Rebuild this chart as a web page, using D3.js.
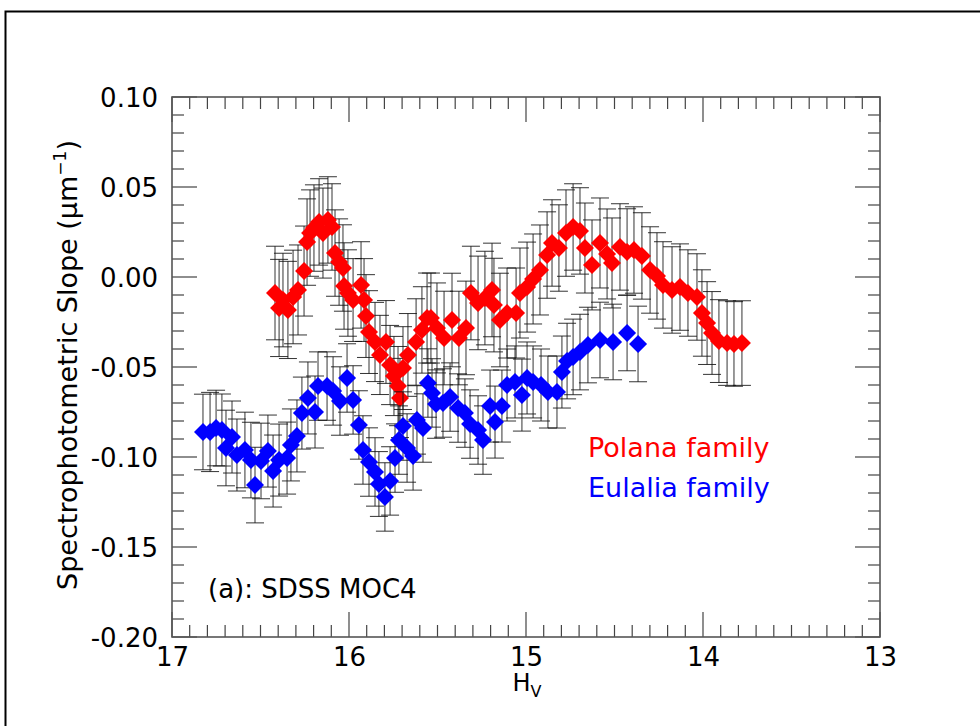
<!DOCTYPE html>
<html>
<head>
<meta charset="utf-8">
<script src="https://cdn.jsdelivr.net/npm/d3@7"></script>
<style>
  html, body { margin: 0; padding: 0; background: #fff; }
  svg { display: block; }
  text { font-family: "DejaVu Sans", "Noto Sans", sans-serif; }
</style>
</head>
<body>
<svg id="chart" width="980" height="726"></svg>
<script>
// Polana family: absolute magnitude H_V, running-mean slope and its error
const polanaH = [16.418,16.395,16.373,16.345,16.316,16.288,16.254,16.237,16.220,16.198,
  16.169,16.147,16.119,16.096,16.079,16.056,16.034,16.028,16.006,15.977,
  15.932,15.915,15.904,15.887,15.853,15.825,15.791,15.768,15.746,15.723,
  15.712,15.695,15.667,15.621,15.588,15.559,15.537,15.503,15.463,15.418,
  15.379,15.339,15.311,15.271,15.232,15.192,15.181,15.147,15.107,15.056,
  15.034,14.994,14.960,14.921,14.881,14.853,14.814,14.774,14.734,14.695,
  14.667,14.627,14.582,14.542,14.514,14.469,14.429,14.390,14.345,14.299,
  14.260,14.226,14.175,14.130,14.085,14.034,14.006,13.977,13.949,13.910,
  13.864,13.825,13.780];
const polanaSlope = [-0.0089,-0.0172,-0.0128,-0.0183,-0.0111,-0.0072,0.0033,0.0194,0.0244,0.0272,
  0.0306,0.0244,0.0317,0.0278,0.0133,0.0083,0.0050,-0.0050,-0.0089,-0.0128,
  -0.0044,-0.0128,-0.0217,-0.0306,-0.0361,-0.0433,-0.0361,-0.0489,-0.0550,-0.0606,
  -0.0672,-0.0506,-0.0433,-0.0361,-0.0294,-0.0228,-0.0228,-0.0283,-0.0339,-0.0239,
  -0.0339,-0.0283,-0.0089,-0.0144,-0.0117,-0.0072,-0.0156,-0.0239,-0.0200,-0.0200,
  -0.0089,-0.0056,-0.0011,0.0039,0.0122,0.0189,0.0161,0.0244,0.0278,0.0256,
  0.0161,0.0067,0.0189,0.0128,0.0078,0.0167,0.0139,0.0150,0.0117,0.0039,
  0.0006,-0.0044,-0.0072,-0.0056,-0.0089,-0.0111,-0.0200,-0.0256,-0.0311,-0.0356,
  -0.0367,-0.0372,-0.0367];
const polanaErr = [0.026,0.027,0.026,0.027,0.026,0.025,0.025,0.024,0.024,0.024,
  0.024,0.025,0.024,0.024,0.024,0.024,0.024,0.024,0.024,0.023,
  0.024,0.023,0.023,0.023,0.022,0.022,0.023,0.022,0.022,0.022,
  0.022,0.023,0.023,0.024,0.024,0.025,0.025,0.025,0.026,0.026,
  0.026,0.026,0.026,0.026,0.026,0.026,0.026,0.026,0.025,0.025,
  0.025,0.025,0.025,0.025,0.024,0.024,0.024,0.024,0.024,0.024,
  0.025,0.025,0.025,0.025,0.025,0.024,0.024,0.024,0.024,0.024,
  0.024,0.024,0.024,0.024,0.024,0.024,0.024,0.023,0.023,0.023,
  0.0235,0.0235,0.0235];

// Eulalia family
const eulaliaH = [16.825,16.785,16.751,16.718,16.695,16.661,16.633,16.588,16.554,16.531,
  16.497,16.458,16.429,16.395,16.350,16.328,16.294,16.266,16.232,16.192,
  16.175,16.124,16.090,16.051,16.011,15.977,15.944,15.921,15.887,15.853,
  15.831,15.797,15.768,15.740,15.718,15.695,15.672,15.638,15.616,15.582,
  15.554,15.531,15.508,15.469,15.429,15.384,15.345,15.316,15.271,15.243,
  15.203,15.175,15.136,15.107,15.062,15.023,14.994,14.960,14.915,14.876,
  14.825,14.797,14.768,14.734,14.695,14.650,14.582,14.508,14.429,14.367];
const eulaliaSlope = [-0.0861,-0.0861,-0.0839,-0.0850,-0.0950,-0.0889,-0.0989,-0.0961,-0.1017,-0.1156,
  -0.1022,-0.0967,-0.1078,-0.1017,-0.1006,-0.0933,-0.0883,-0.0756,-0.0672,-0.0750,
  -0.0606,-0.0606,-0.0633,-0.0689,-0.0561,-0.0683,-0.0822,-0.0961,-0.1028,-0.1083,
  -0.1150,-0.1222,-0.1133,-0.1006,-0.0906,-0.0828,-0.0950,-0.0994,-0.0794,-0.0839,
  -0.0589,-0.0644,-0.0706,-0.0700,-0.0667,-0.0728,-0.0756,-0.0817,-0.0850,-0.0906,
  -0.0717,-0.0806,-0.0717,-0.0600,-0.0583,-0.0656,-0.0561,-0.0583,-0.0600,-0.0639,
  -0.0639,-0.0528,-0.0467,-0.0444,-0.0417,-0.0378,-0.0350,-0.0361,-0.0311,-0.0372];
const eulaliaErr = [0.021,0.022,0.021,0.020,0.021,0.020,0.020,0.021,0.021,0.021,
  0.021,0.020,0.020,0.020,0.020,0.020,0.020,0.020,0.020,0.020,
  0.019,0.019,0.019,0.019,0.019,0.019,0.019,0.019,0.019,0.019,
  0.018,0.019,0.019,0.019,0.019,0.019,0.019,0.019,0.019,0.019,
  0.019,0.019,0.019,0.019,0.019,0.019,0.019,0.019,0.019,0.019,
  0.020,0.020,0.020,0.020,0.020,0.020,0.020,0.020,0.020,0.020,
  0.020,0.020,0.021,0.021,0.021,0.021,0.021,0.021,0.021,0.021];

const xTickValues = [17, 16, 15, 14, 13];
const yTickValues = [0.10, 0.05, 0.00, -0.05, -0.10, -0.15, -0.20];

const svg = d3.select("#chart");
const W = 980, H = 726;
const margin = { left: 172, right: 100, top: 97, bottom: 89 };
const x0 = margin.left, x1 = W - margin.right;
const y0 = margin.top, y1 = H - margin.bottom;

const x = d3.scaleLinear().domain([17, 13]).range([x0, x1]);
const y = d3.scaleLinear().domain([-0.20, 0.10]).range([y1, y0]);

// outer figure frame
svg.append("rect")
  .attr("x", 5.5).attr("y", 11.5).attr("width", 1000).attr("height", 800)
  .attr("fill", "none").attr("stroke", "#000").attr("stroke-width", 2);

// ticks (inward on all four sides)
const tickColor = "#444";
const minorX = d3.range(130, 171).map(v => v / 10);
const minorY = d3.range(-20, 11).map(v => v / 100);
const g = svg.append("g").attr("stroke", tickColor).attr("stroke-width", 1.2);
minorX.forEach(v => {
  const major = Math.abs(v - Math.round(v)) < 1e-6;
  const len = major ? 25 : 12;
  const px = x(v);
  g.append("line").attr("x1", px).attr("x2", px).attr("y1", y1).attr("y2", y1 - len);
  g.append("line").attr("x1", px).attr("x2", px).attr("y1", y0).attr("y2", y0 + len);
});
minorY.forEach(v => {
  const major = Math.abs(v * 20 - Math.round(v * 20)) < 1e-6;
  const len = major ? 25 : 12;
  const py = y(v);
  g.append("line").attr("x1", x0).attr("x2", x0 + len).attr("y1", py).attr("y2", py);
  g.append("line").attr("x1", x1).attr("x2", x1 - len).attr("y1", py).attr("y2", py);
});

// axes frame
svg.append("rect")
  .attr("x", x0).attr("y", y0).attr("width", x1 - x0).attr("height", y1 - y0)
  .attr("fill", "none").attr("stroke", "#555").attr("stroke-width", 1.6);

// tick labels via d3 axes (lines hidden, labels kept)
const xAxis = d3.axisBottom(x).tickValues(xTickValues).tickFormat(d3.format("d")).tickSize(0).tickPadding(10);
const gx = svg.append("g").attr("transform", `translate(0,${y1})`).call(xAxis);
gx.select(".domain").remove();
gx.selectAll("text").attr("font-size", 26).attr("fill", "#000")
  .attr("font-family", "DejaVu Sans, sans-serif").attr("dy", "0.72em");

const yAxis = d3.axisLeft(y).tickValues(yTickValues).tickFormat(d3.format(".2f")).tickSize(0).tickPadding(14);
const gy = svg.append("g").attr("transform", `translate(${x0},0)`).call(yAxis);
gy.select(".domain").remove();
gy.selectAll("text").attr("font-size", 26).attr("fill", "#000")
  .attr("font-family", "DejaVu Sans, sans-serif").attr("dy", "0.36em")
  .text(d => d3.format(".2f")(d).replace("−", "-"));

// axis titles
const xt = svg.append("text").attr("x", 527).attr("y", 691)
  .attr("text-anchor", "middle").attr("font-size", 24);
xt.append("tspan").text("H");
xt.append("tspan").attr("font-size", 16).attr("dy", 6).text("V");

const yt = svg.append("text")
  .attr("transform", "translate(77,365) rotate(-90)")
  .attr("text-anchor", "middle").attr("font-size", 27);
yt.append("tspan").text("Spectrophotometric Slope (\u03bcm");
yt.append("tspan").attr("font-size", 17).attr("dy", -11).text("\u22121");
yt.append("tspan").attr("dy", 11).text(")");

// data series
const diamond = r => `M0,${-r}L${r},0L0,${r}L${-r},0Z`;
function drawSeries(hs, ss, es, color) {
  const data = hs.map((h, i) => ({ h, s: ss[i], e: es[i] }));
  const bars = svg.append("g").attr("stroke", "#111").attr("stroke-width", 1).attr("stroke-opacity", 0.85);
  data.forEach(d => {
    const px = x(d.h), top = y(d.s + d.e), bot = y(d.s - d.e);
    bars.append("line").attr("x1", px).attr("x2", px).attr("y1", top).attr("y2", bot);
    bars.append("line").attr("x1", px - 9).attr("x2", px + 9).attr("y1", top).attr("y2", top);
    bars.append("line").attr("x1", px - 9).attr("x2", px + 9).attr("y1", bot).attr("y2", bot);
  });
  svg.append("g").selectAll("path").data(data).join("path")
    .attr("d", diamond(9))
    .attr("transform", d => `translate(${x(d.h)},${y(d.s)})`)
    .attr("fill", color);
}
drawSeries(polanaH, polanaSlope, polanaErr, "#ff0000");
drawSeries(eulaliaH, eulaliaSlope, eulaliaErr, "#0000ff");

// legend and annotation
svg.append("text").attr("x", 588).attr("y", 457).attr("font-size", 27).attr("fill", "#ff0000").text("Polana family");
svg.append("text").attr("x", 588).attr("y", 497).attr("font-size", 27).attr("fill", "#0000ff").text("Eulalia family");
svg.append("text").attr("x", 208).attr("y", 598).attr("font-size", 26).attr("fill", "#000").text("(a): SDSS MOC4");
</script>
</body>
</html>
